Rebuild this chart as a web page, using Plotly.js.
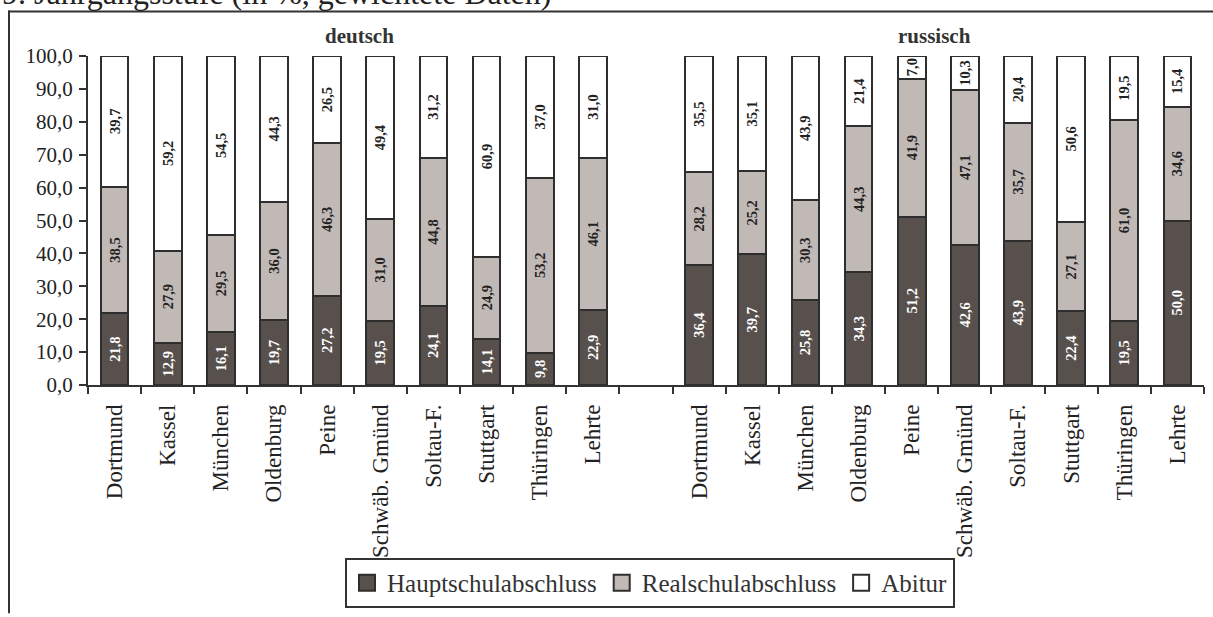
<!DOCTYPE html>
<html>
<head>
<meta charset="utf-8">
<script src="https://cdn.plot.ly/plotly-3.0.1.min.js"></script>
<style>
html,body{margin:0;padding:0;background:#fff;}
#chart{width:1213px;height:617px;}
</style>
</head>
<body>
<div id="chart"></div>
<script>
// ---- data ----
const cities = ["Dortmund","Kassel","München","Oldenburg","Peine","Schwäb. Gmünd","Soltau-F.","Stuttgart","Thüringen","Lehrte"];
const groups = ["deutsch","russisch"];
const seriesNames = ["Hauptschulabschluss","Realschulabschluss","Abitur"];
const chartTitle = "9. Jahrgangsstufe (in %, gewichtete Daten)";

const haupt_de = [21.8,12.9,16.1,19.7,27.2,19.5,24.1,14.1,9.8,22.9];
const real_de  = [38.5,27.9,29.5,36.0,46.3,31.0,44.8,24.9,53.2,46.1];
const abi_de   = [39.7,59.2,54.5,44.3,26.5,49.4,31.2,60.9,37.0,31.0];

const haupt_ru = [36.4,39.7,25.8,34.3,51.2,42.6,43.9,22.4,19.5,50.0];
const real_ru  = [28.2,25.2,30.3,44.3,41.9,47.1,35.7,27.1,61.0,34.6];
const abi_ru   = [35.5,35.1,43.9,21.4,7.0,10.3,20.4,50.6,19.5,15.4];

const yTicks = [0,10,20,30,40,50,60,70,80,90,100];

// ---- layout helpers ----
const W = 1213, H = 617;
const L = 88, R = 9, T = 56, B = 228;
const pw = W - L - R, ph = H - T - B;
const xp = px => (px - L) / pw;
const yp = py => (H - B - py) / ph;

// positions: deutsch 0..9, empty slot 10, russisch 11..20
const n = cities.length;
const xs = [];
for (let i = 0; i < n; i++) xs.push(i);
for (let i = 0; i < n; i++) xs.push(n + 1 + i);
const labels = cities.concat(cities);
const bounds = [];
for (let i = 0; i <= 2 * n + 1; i++) bounds.push(i - 0.5);

const colors = ["#58504d", "#c1b9b6", "#ffffff"];
const textColors = ["#ffffff", "#222222", "#222222"];
const lineCol = "#2e2e2e";
const values = [
  haupt_de.concat(haupt_ru),
  real_de.concat(real_ru),
  abi_de.concat(abi_ru)
];

const font = "'Liberation Serif','Times New Roman',Times,serif";

const traces = values.map((v, k) => ({
  type: "bar",
  name: seriesNames[k],
  x: xs,
  y: v,
  showlegend: false,
  marker: {color: colors[k], line: {color: lineCol, width: 2}},
  texttemplate: "<b>%{y:.1f}</b>",
  textposition: "inside",
  insidetextanchor: "middle",
  textangle: -90,
  constraintext: "none",
  textfont: {family: font, size: 14.5, color: textColors[k]},
  hoverinfo: "skip"
}));

// legend entries (square symbols)
seriesNames.forEach((nm, k) => traces.push({
  type: "scatter", mode: "markers", name: nm,
  x: [null], y: [null],
  marker: {symbol: "square", size: 16, color: colors[k], line: {color: lineCol, width: 2}},
  hoverinfo: "skip"
}));

// dummy trace to activate the label axis
traces.push({type: "scatter", x: [xs[0]], y: [null], xaxis: "x2", yaxis: "y",
  showlegend: false, hoverinfo: "skip", mode: "markers"});

const layout = {
  width: W, height: H,
  margin: {l: L, r: R, t: T, b: B, pad: 0},
  paper_bgcolor: "#fff", plot_bgcolor: "#fff",
  barmode: "stack",
  bargap: 0.48,
  separators: ",.",
  font: {family: font, color: "#222", size: 21},
  showlegend: true,
  legend: {
    orientation: "h",
    x: xp(650), xanchor: "center",
    y: yp(564), yanchor: "top",
    bgcolor: "#fff", bordercolor: "#333", borderwidth: 2,
    font: {family: font, size: 25, color: "#333"},
    traceorder: "normal",
    itemwidth: 30,
    tracegroupgap: 0
  },
  xaxis: {
    range: [-0.5, 2 * n + 0.5],
    tickmode: "array", tickvals: bounds, ticktext: bounds.map(() => ""),
    ticks: "outside", ticklen: 7, tickwidth: 2, tickcolor: "#333",
    showline: true, linecolor: "#333", linewidth: 2,
    showgrid: false, zeroline: false, fixedrange: true
  },
  xaxis2: {
    overlaying: "x", anchor: "y", side: "bottom",
    range: [-0.5, 2 * n + 0.5],
    tickmode: "array", tickvals: xs, ticktext: labels,
    tickangle: -90, ticks: "", ticklabelstandoff: 14,
    tickfont: {family: font, size: 23, color: "#222"},
    showline: false, showgrid: false, zeroline: false, fixedrange: true
  },
  yaxis: {
    range: [0, 100],
    tickmode: "array", tickvals: yTicks, tickformat: ".1f",
    ticks: "outside", ticklen: 7, tickwidth: 2, tickcolor: "#333",
    ticklabelstandoff: 2,
    showline: true, linecolor: "#333", linewidth: 2,
    showgrid: false, zeroline: false, fixedrange: true,
    tickfont: {family: font, size: 21, color: "#222"}
  },
  annotations: [
    {xref: "paper", yref: "paper", x: xp(359), y: yp(36), yanchor: "middle", xanchor: "center",
     text: "<b>" + groups[0] + "</b>", showarrow: false, font: {family: font, size: 21, color: "#333"}},
    {xref: "paper", yref: "paper", x: xp(934), y: yp(36), yanchor: "middle", xanchor: "center",
     text: "<b>" + groups[1] + "</b>", showarrow: false, font: {family: font, size: 21, color: "#333"}},
    {xref: "paper", yref: "paper", x: xp(0), y: yp(-8), xanchor: "left", yanchor: "middle",
     text: chartTitle, showarrow: false,
     font: {family: font, size: 32, color: "#222"}}
  ],
  shapes: [
    {type: "line", xref: "paper", yref: "paper", x0: xp(9), x1: xp(9), y0: yp(10), y1: yp(620),
     line: {color: "#333", width: 2}},
    {type: "line", xref: "paper", yref: "paper", x0: xp(8), x1: xp(1220), y0: yp(11), y1: yp(11),
     line: {color: "#333", width: 2}}
  ]
};

Plotly.newPlot("chart", traces, layout, {staticPlot: true, displayModeBar: false});
</script>
</body>
</html>
